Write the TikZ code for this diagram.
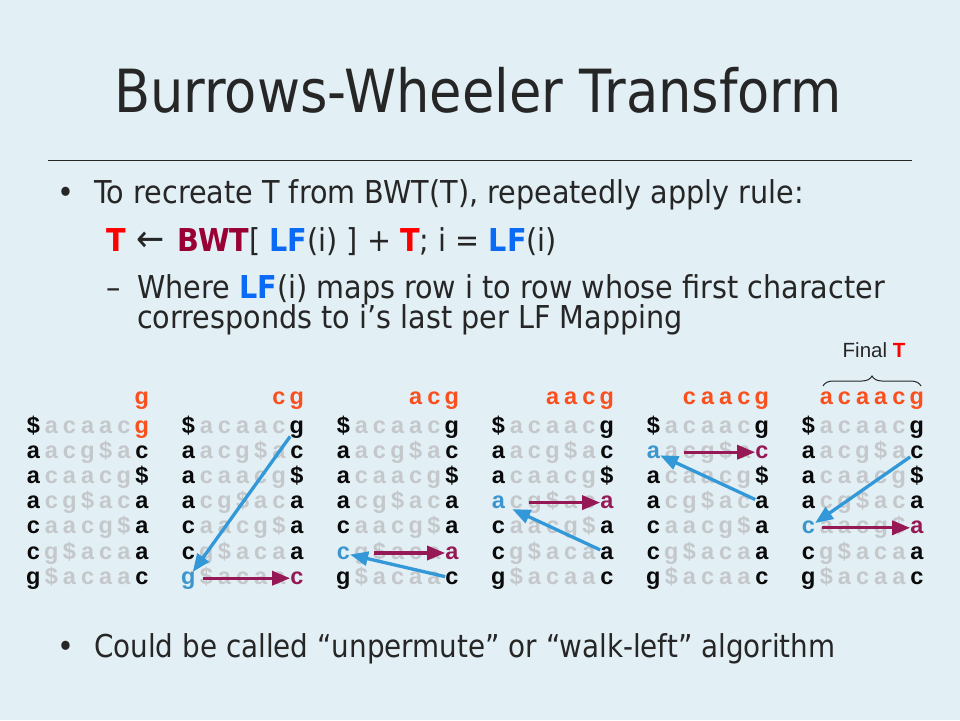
\documentclass[tikz,border=0pt]{standalone}
\usepackage{fontspec}
\setmainfont{DejaVu Sans}[FakeStretch=0.91]
\newfontfamily\titlefont{DejaVu Sans}[FakeStretch=0.885]
\newfontfamily\arialf{Liberation Sans}
\usetikzlibrary{arrows.meta,decorations.pathreplacing}
\definecolor{bg}{RGB}{226,239,245}
\definecolor{txt}{RGB}{38,38,38}
\definecolor{lgray}{RGB}{196,200,203}
\definecolor{orng}{RGB}{250,80,30}
\definecolor{cblue}{RGB}{60,150,205}
\definecolor{arrblue}{RGB}{50,152,215}
\definecolor{maroon}{RGB}{150,25,85}
\definecolor{tred}{RGB}{255,0,0}
\definecolor{bwtc}{RGB}{153,0,51}
\definecolor{lfb}{RGB}{10,105,245}
\definecolor{ink}{RGB}{10,10,10}
\newcommand\defcell[4]{\expandafter\def\csname cc-#1-#2-#3\endcsname{#4}}
\defcell{0}{0}{6}{orng}
\defcell{1}{6}{0}{cblue}\defcell{1}{6}{6}{maroon}
\defcell{2}{5}{0}{cblue}\defcell{2}{5}{6}{maroon}
\defcell{3}{3}{0}{cblue}\defcell{3}{3}{6}{maroon}
\defcell{4}{1}{0}{cblue}\defcell{4}{1}{6}{maroon}
\defcell{5}{4}{0}{cblue}\defcell{5}{4}{6}{maroon}
\tikzset{
  body/.style={inner sep=0pt, text=txt, font=\fontsize{31.5}{36}\selectfont},
  cell/.style={inner sep=0pt, text height=12pt, text depth=0pt, anchor=center,
    font=\arialf\bfseries\fontsize{23.5}{24}\selectfont},
  barrow/.style={draw=arrblue, line width=3.3pt, -{Triangle[length=18pt,width=14pt]}},
  marrow/.style={draw=maroon, line width=3.3pt, -{Triangle[length=18pt,width=14pt]}},
}
\begin{document}
\begin{tikzpicture}[x=1pt,y=-1pt]
\fill[bg] (0,0) rectangle (960,720);
\useasboundingbox (0,0) rectangle (960,720);
% title
\node[inner sep=0pt, text=txt, font=\titlefont\fontsize{59.5}{64}\selectfont, anchor=base] (title) at (478,112) {Burrows-Wheeler Transform};
\draw[txt, line width=1pt] (48,160) -- (912,160);
% bullets
\node[body, anchor=base] (bul1) at (66,203) {•};
\node[body, anchor=base west] (l1) at (94,203) {To recreate T from BWT(T), repeatedly apply rule:};
\node[body, anchor=base west] (l2) at (106,251) {{\bfseries\color{tred}T}\hspace{11pt}{\fontsize{37}{37}\selectfont ←}\hspace{13pt}{\bfseries\color{bwtc}BWT}[ {\bfseries\color{lfb}LF}(i) ] + {\bfseries\color{tred}T}; i = {\bfseries\color{lfb}LF}(i)};
\node[body, anchor=base west] (dash) at (106,298) {–};
\node[body, anchor=base west] (l3) at (137,298) {Where {\bfseries\color{lfb}LF}(i) maps row i to row whose first character};
\node[body, anchor=base west] (l4) at (137,328) {corresponds to i’s last per LF Mapping};
\node[body, anchor=base] (bul2) at (66,657) {•};
\node[body, anchor=base west] (l5) at (94,657) {\scalebox{0.97}[1]{Could be called “unpermute” or “walk-left” algorithm}};
% matrices
\foreach \k in {0,...,5}{
  \pgfmathsetmacro\xo{33.3+155*\k}
  \foreach \rowlist [count=\r from 0] in {{\$,a,c,a,a,c,g},{a,a,c,g,\$,a,c},{a,c,a,a,c,g,\$},{a,c,g,\$,a,c,a},{c,a,a,c,g,\$,a},{c,g,\$,a,c,a,a},{g,\$,a,c,a,a,c}}{
    \foreach \ch [count=\c from 0] in \rowlist {
      \ifnum\c=0 \def\cc{ink}\else\ifnum\c=6 \def\cc{ink}\else\def\cc{lgray}\fi\fi
      \ifcsname cc-\k-\r-\c\endcsname \edef\cc{\csname cc-\k-\r-\c\endcsname}\fi
      \node[cell, text=\cc] (m\k-\r-\c) at (\xo+18.1*\c, 427.0+25.2*\r) {\ch};
    }
  }
  \foreach \h [count=\c from 1] in {a,c,a,a,c,g}{
    \ifnum\c>\numexpr5-\k\relax
      \node[cell, text=orng] (h\k-\c) at (\xo+18.1*\c, 398.0) {\h};
    \fi
  }
}
% arrows
\draw[barrow, shorten <=4pt] (m1-0-6) -- (m1-6-0);
\draw[marrow, shorten <=7pt] (m1-6-0) -- (m1-6-6);
\draw[barrow] (m2-6-6) -- (m2-5-0);
\draw[marrow, shorten <=24pt] (m2-5-0) -- (m2-5-6);
\draw[barrow, shorten >=8pt] (m3-5-6) -- (m3-3-0);
\draw[marrow, shorten <=24pt] (m3-3-0) -- (m3-3-6);
\draw[barrow] (m4-3-6) -- (m4-1-0);
\draw[marrow, shorten <=24pt] (m4-1-0) -- (m4-1-6);
\draw[barrow] (m5-1-6) -- (m5-4-0);
\draw[marrow, shorten <=7pt] (m5-4-0) -- (m5-4-6);
% brace and label
\draw[txt, line width=1pt, decorate, decoration={brace, amplitude=10pt}] (823,386) -- (921,386);
\node[inner sep=0pt, anchor=base, text=txt, font=\arialf\fontsize{20.5}{22}\selectfont] (final) at (874,357) {Final {\bfseries\color{tred}T}};
\end{tikzpicture}
\end{document}
